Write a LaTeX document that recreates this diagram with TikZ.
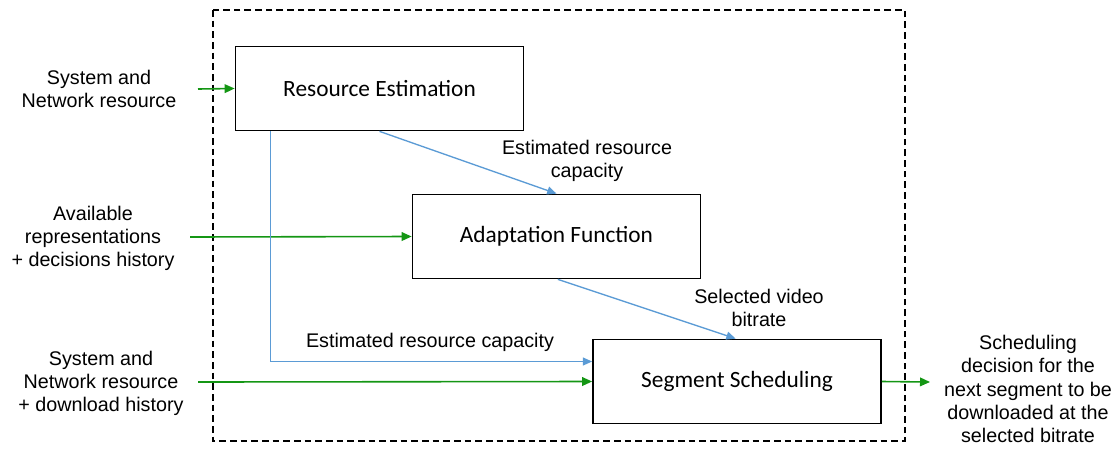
\documentclass[tikz,border=0pt]{standalone}
\usepackage{fontspec}
\setmainfont{Liberation Sans}
\newfontfamily\boxfont{Carlito}
\usetikzlibrary{arrows.meta}
\definecolor{flowgreen}{RGB}{20,150,20}
\definecolor{flowblue}{RGB}{91,155,213}

\begin{document}
\begin{tikzpicture}[
			x = 0.75pt, y = -0.75pt,
			block/.style = {draw, line width = 1.3pt, rectangle, minimum width = 216pt, minimum height = 63pt, font = \boxfont\fontsize{17.5}{20}\selectfont},
			label/.style = {align = center, font = \fontsize{14.8}{17.3}\selectfont},
			infeed/.style = {flowgreen, line width = 1.2pt, -{Triangle[length=7.5pt, width=6.5pt]}},
			inner/.style = {flowblue, line width = 1pt, -{Triangle[length=7pt, width=6pt]}}]
			\useasboundingbox (0,0) rectangle (1119,450);
			\draw[line width = 1.2pt, dash pattern = on 5pt off 3pt] (213,10) rectangle (905,441);

			\node[block] (est) at (379.5,88.5) {Resource Estimation};
			\node[block] (adapt) at (556.5,236.5) {Adaptation Function};
			\node[block] (sched) at (737,381.5) {Segment Scheduling};

			% Labels
			\node[label] (sysin) at (99,89) {System and\\Network resource};
			\node[label] (repin) at (93,238) {Available\\representations\\+ decisions history};
			\node[label] (histin) at (101,383) {System and\\Network resource\\+ download history};
			\node[label] (out) at (1028,389) {Scheduling\\decision for the\\next segment to be\\downloaded at the\\selected bitrate};
			\node[label] (capa) at (587,161) {Estimated resource\\capacity};
			\node[label] (rate) at (759,308) {Selected video\\bitrate};
			\node[label] (capb) at (430,342) {Estimated resource capacity};

			\coordinate (sysend) at (198,89);
			\coordinate (repend) at (190,237);
			\coordinate (histend) at (198,382);
			\coordinate (outend) at (930,382);

			\draw[infeed] (sysend) -- (est.west);
			\draw[infeed] (repend) -- (adapt.west);
			\draw[infeed] (histend) -- (sched.west);
			\draw[infeed] (sched.east) -- (outend);

			\draw[inner] (est.south) -- (adapt.north);
			\draw[inner] ([xshift=1pt]adapt.south) -- ([xshift=-1pt]sched.north);
			\draw[inner] ([xshift=-82pt]est.south) |- ([yshift=15pt]sched.west);
		\end{tikzpicture}
\end{document}
